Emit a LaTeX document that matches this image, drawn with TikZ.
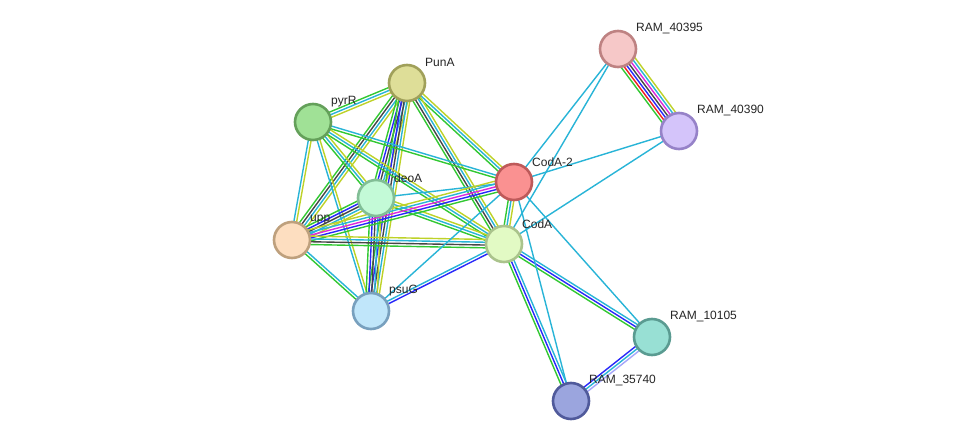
\documentclass[tikz,border=0pt]{standalone}
\usepackage{fontspec}
\setmainfont{Liberation Sans}
\usetikzlibrary{calc}
\pgfdeclarelayer{background}
\pgfsetlayers{background,main}
\definecolor{sgreen}{RGB}{50,200,50}
\definecolor{sred}{RGB}{240,30,30}
\definecolor{sblue}{RGB}{40,40,250}
\definecolor{sblack}{RGB}{70,70,70}
\definecolor{smag}{RGB}{220,40,220}
\definecolor{scyan}{RGB}{40,180,215}
\definecolor{syel}{RGB}{190,210,40}
\definecolor{slav}{RGB}{165,165,250}
\tikzset{
  prot/.style={circle, minimum size=36pt, inner sep=0pt, line width=2.6pt},
  plabel/.style={anchor=west, inner sep=0pt, font=\fontsize{12}{14}\selectfont, text=black!85},
  evline/.style={line width=1.4pt},
}
\newcommand\sedge[3]{%
  \foreach \c [count=\k] in {#3} {\xdef\ncols{\k}}%
  \foreach \c [count=\i] in {#3} {%
    \pgfmathsetmacro\off{(\i-(\ncols+1)/2)*2.8}%
    \draw[evline, \c] ($(#1.center)!\off pt!90:(#2.center)$) -- ($(#2.center)!\off pt!-90:(#1.center)$);
  }%
}
\begin{document}
\begin{tikzpicture}[x=1pt, y=-1pt]
\useasboundingbox (0,0) rectangle (975,446);

\node[prot, fill={rgb,255:red,222;green,222;blue,152}, draw={rgb,255:red,160;green,160;blue,90}] (PunA) at (407,83) {};
\node[prot, fill={rgb,255:red,160;green,225;blue,150}, draw={rgb,255:red,100;green,160;blue,90}] (pyrR) at (313,122) {};
\node[prot, fill={rgb,255:red,195;green,250;blue,215}, draw={rgb,255:red,130;green,190;blue,150}] (deoA) at (376,198) {};
\node[prot, fill={rgb,255:red,253;green,222;blue,192}, draw={rgb,255:red,190;green,160;blue,125}] (upp) at (292,240) {};
\node[prot, fill={rgb,255:red,192;green,230;blue,250}, draw={rgb,255:red,120;green,160;blue,190}] (psuG) at (371,311) {};
\node[prot, fill={rgb,255:red,250;green,145;blue,145}, draw={rgb,255:red,190;green,90;blue,90}] (CodA2) at (514,182) {};
\node[prot, fill={rgb,255:red,226;green,250;blue,196}, draw={rgb,255:red,170;green,195;blue,140}] (CodA) at (504,244) {};
\node[prot, fill={rgb,255:red,246;green,200;blue,200}, draw={rgb,255:red,190;green,130;blue,130}] (R40395) at (618,49) {};
\node[prot, fill={rgb,255:red,212;green,196;blue,250}, draw={rgb,255:red,150;green,130;blue,200}] (R40390) at (679,131) {};
\node[prot, fill={rgb,255:red,152;green,224;blue,212}, draw={rgb,255:red,90;green,155;blue,145}] (R10105) at (652,337) {};
\node[prot, fill={rgb,255:red,155;green,165;blue,222}, draw={rgb,255:red,80;green,90;blue,155}] (R35740) at (571,401) {};

\node[plabel] (lPunA) at ($(PunA)+(18,-21)$) {PunA};
\node[plabel] (lpyrR) at ($(pyrR)+(18,-20)$) {pyrR};
\node[plabel] (ldeoA) at ($(deoA)+(18,-20)$) {deoA};
\node[plabel] (lupp) at ($(upp)+(18,-20)$) {upp};
\node[plabel] (lpsuG) at ($(psuG)+(18,-20)$) {psuG};
\node[plabel] (lCodA2) at ($(CodA2)+(18,-20)$) {CodA-2};
\node[plabel] (lCodA) at ($(CodA)+(18,-20)$) {CodA};
\node[plabel] (l40395) at ($(R40395)+(18,-20)$) {RAM\_40395};
\node[plabel] (l40390) at ($(R40390)+(18,-20)$) {RAM\_40390};
\node[plabel] (l10105) at ($(R10105)+(18,-20)$) {RAM\_10105};
\node[plabel] (l35740) at ($(R35740)+(18,-20)$) {RAM\_35740};

\begin{pgfonlayer}{background}
\fill[white] (0,0) rectangle (975,446);
\sedge{PunA}{pyrR}{sgreen,scyan,syel}
\sedge{PunA}{upp}{sgreen,sblack,scyan,syel}
\sedge{PunA}{deoA}{sgreen,sblue,sblack,scyan,syel}
\sedge{PunA}{psuG}{sgreen,sblue,sblack,scyan,syel}
\sedge{PunA}{CodA2}{sgreen,scyan,syel}
\sedge{PunA}{CodA}{sgreen,sblack,scyan,syel}
\sedge{pyrR}{deoA}{sgreen,scyan,syel}
\sedge{pyrR}{upp}{scyan,syel}
\sedge{pyrR}{psuG}{scyan,syel}
\sedge{pyrR}{CodA2}{sgreen,scyan}
\sedge{pyrR}{CodA}{sgreen,scyan,syel}
\sedge{deoA}{upp}{sgreen,sblue,sblack,scyan,syel}
\sedge{deoA}{psuG}{sgreen,sblue,sblack,scyan,syel}
\sedge{deoA}{CodA2}{scyan}
\sedge{deoA}{CodA}{sgreen,scyan,syel}
\sedge{upp}{CodA2}{sgreen,sblue,smag,scyan,syel}
\sedge{upp}{CodA}{sgreen,sblack,scyan,syel}
\sedge{upp}{psuG}{sgreen,scyan}
\sedge{psuG}{CodA2}{scyan}
\sedge{psuG}{CodA}{sblue,scyan}
\sedge{CodA2}{CodA}{sgreen,scyan,syel}
\sedge{CodA2}{R40395}{scyan}
\sedge{CodA2}{R40390}{scyan}
\sedge{CodA}{R40395}{scyan}
\sedge{CodA}{R40390}{scyan}
\sedge{R40395}{R40390}{sgreen,sred,sblue,sblack,smag,scyan,syel}
\sedge{CodA}{R10105}{sgreen,sblue,scyan}
\sedge{CodA}{R35740}{sgreen,sblue,scyan}
\sedge{CodA2}{R10105}{scyan}
\sedge{CodA2}{R35740}{scyan}
\sedge{R10105}{R35740}{sblue,scyan,slav}
\end{pgfonlayer}
\end{tikzpicture}
\end{document}
